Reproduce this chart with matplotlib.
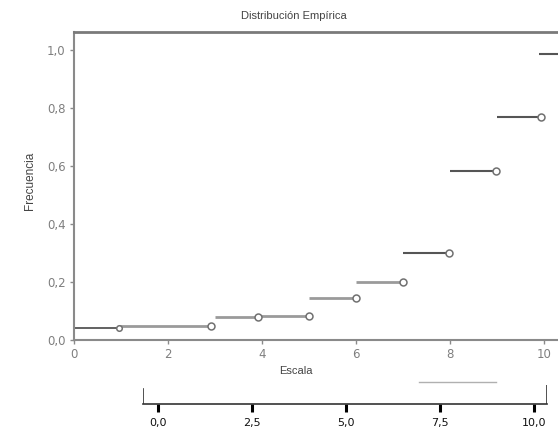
import matplotlib
matplotlib.use("Agg")
import matplotlib.pyplot as plt
from matplotlib.lines import Line2D

# ---- data ----
seg_start = [0.0, 0.96, 3.0, 3.92, 5.0, 6.0, 7.0, 8.0, 9.0, 9.9]
seg_end = [0.96, 2.91, 3.92, 5.0, 5.99, 7.0, 7.98, 8.98, 9.94, 10.6]
seg_level = [0.042, 0.048, 0.078, 0.083, 0.146, 0.200, 0.301, 0.583, 0.770, 0.986]
has_circle = [True, True, True, True, True, True, True, True, True, False]

x_ticks = [0, 2, 4, 6, 8, 10]
y_ticks = [0.0, 0.2, 0.4, 0.6, 0.8, 1.0]
y_tick_labels = ["0,0", "0,2", "0,4", "0,6", "0,8", "1,0"]
sec_ticks = [0.0, 2.5, 5.0, 7.5, 10.0]
sec_tick_labels = ["0,0", "2,5", "5,0", "7,5", "10,0"]

# styles (not data)
seg_colors = ["#555555", "#9a9a9a", "#9a9a9a", "#9a9a9a", "#9a9a9a",
              "#9a9a9a", "#555555", "#555555", "#555555", "#555555"]
seg_widths = [1.3, 2.0, 2.0, 2.0, 2.0, 2.0, 1.5, 1.5, 1.5, 1.5]
marker_sizes = [4.0, 5.0, 5.0, 5.0, 5.0, 5.0, 5.0, 5.0, 5.0, 5.0]

narrow = ['Liberation Sans Narrow', 'Liberation Sans', 'DejaVu Sans']
plt.rcParams['font.family'] = ['DejaVu Sans']

W, H = 558, 432
fig = plt.figure(figsize=(W / 100, H / 100), dpi=100)
fig.patch.set_facecolor("white")

# main axes: x=0 at px 74, 47 px/unit; y=0 at px 340, 290 px/unit; top at px 32
left_px, bottom_px, top_px = 74, 340, 32
ax = fig.add_axes([left_px / W, (H - bottom_px) / H, (W - left_px) / W, (bottom_px - top_px) / H])
ax.set_xlim(0, (W - left_px) / 47)
ax.set_ylim(0, (bottom_px - top_px) / 290)

for s, e, lv, c, lw, hc, ms in zip(seg_start, seg_end, seg_level, seg_colors,
                                   seg_widths, has_circle, marker_sizes):
    ax.plot([s, e], [lv, lv], color=c, lw=lw, solid_capstyle="butt", zorder=2, clip_on=True)
    if hc:
        ax.plot([e], [lv], marker="o", ms=ms, mfc="white", mec="#707070", mew=1.1,
                linestyle="none", zorder=3)

ax.set_xticks(x_ticks)
ax.set_xticklabels([str(t) for t in x_ticks])
ax.set_yticks(y_ticks)
ax.set_yticklabels(y_tick_labels)
ax.tick_params(axis="both", colors="#8a8a8a", labelcolor="#7f7f7f", labelsize=8.5,
               length=3, width=1, direction="out", pad=3)
for side in ["left", "bottom"]:
    ax.spines[side].set_color("#8a8a8a")
    ax.spines[side].set_linewidth(1.5)
ax.spines["top"].set_color("#7a7a7a")
ax.spines["top"].set_linewidth(2.0)
ax.spines["right"].set_visible(False)

# texts
fig.text(294 / W, 1 - 16 / H, "Distribución Empírica", ha="center", va="center",
         fontsize=8, color="#444444", family=narrow)
fig.text(30 / W, 1 - 181 / H, "Frecuencia", ha="center", va="center", rotation=90,
         fontsize=8.5, color="#444444", family=narrow)
fig.text(296 / W, 1 - 371 / H, "Escala", ha="center", va="center",
         fontsize=8, color="#444444", family=narrow)

# secondary axis below: 0 at px 158, 37.6 px/unit, line at y px 404 from 143 to 547
sl, sr, sy, sh = 143, 547, 404, 19
ax2 = fig.add_axes([sl / W, (H - sy) / H, (sr - sl) / W, sh / H])
ax2.set_xlim((sl - 158) / 37.6, (sr - 158) / 37.6)
ax2.set_ylim(0, 1)
ax2.patch.set_alpha(0)
for side in ["left", "right", "top"]:
    ax2.spines[side].set_visible(False)
ax2.spines["bottom"].set_color("#333333")
ax2.spines["bottom"].set_linewidth(1.2)
ax2.add_line(Line2D([0, 0], [0, 15 / sh], transform=ax2.transAxes, color="#333333", lw=1.2))
ax2.add_line(Line2D([1, 1], [0, 1], transform=ax2.transAxes, color="#333333", lw=1.2))
ax2.set_yticks([])
ax2.set_xticks(sec_ticks)
ax2.set_xticklabels(sec_tick_labels)
ax2.tick_params(axis="x", colors="black", labelcolor="#111111", labelsize=8,
                length=6, width=2.2, direction="out", pad=4)

# faint stray line seen in the reference
fig.add_artist(Line2D([419 / W, 496 / W], [1 - 382 / H, 1 - 382 / H],
                      transform=fig.transFigure, color="#b0b0b0", lw=1))

fig.savefig("out.png", dpi=100, facecolor="white")
